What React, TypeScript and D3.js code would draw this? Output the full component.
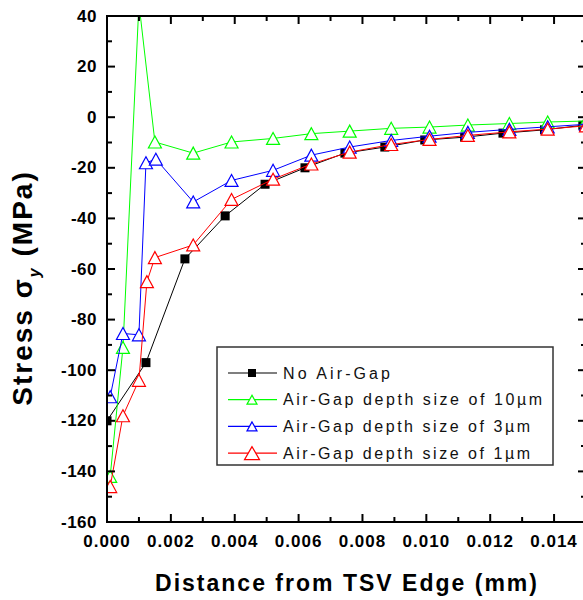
import * as d3 from "d3";
import React from "react";

// distances in mm, stress in MPa
const noGapX = [0, 0.00122, 0.00244, 0.0037, 0.00495, 0.0062, 0.00745, 0.0087, 0.00995, 0.0112, 0.0124, 0.0137, 0.0149];
const noGapY = [-120, -97, -56, -39, -26.5, -20, -14.2, -11.8, -9, -7.9, -6.3, -5, -3.2];

const gap10X = [0.0001, 0.0005, 0.001, 0.0015, 0.0027, 0.0039, 0.0052, 0.0064, 0.0076, 0.0089, 0.0101, 0.0113, 0.0126, 0.0138, 0.015];
const gap10Y = [-142, -91, 45, -9.8, -14.2, -9.8, -8.4, -6.5, -5.5, -4.4, -3.9, -3.1, -2.5, -1.9, -1.5];

const gap3X = [0.0001, 0.0005, 0.001, 0.00122, 0.00153, 0.0027, 0.0039, 0.0052, 0.0064, 0.0076, 0.0089, 0.0101, 0.0113, 0.0126, 0.0138, 0.015];
const gap3Y = [-110.5, -85.5, -86, -18, -16.6, -33.5, -25, -21, -15, -11.8, -9.2, -7.5, -6, -4.8, -3.8, -2.8];

const gap1X = [0.0001, 0.0005, 0.001, 0.00125, 0.0015, 0.0027, 0.0039, 0.0052, 0.0064, 0.0076, 0.0089, 0.0101, 0.0113, 0.0126, 0.0138, 0.015];
const gap1Y = [-146, -118, -104, -65, -55.5, -50.5, -32.5, -24.5, -18.5, -13.8, -10.8, -8.8, -7.2, -5.8, -4.7, -3.4];

const xTicks = [0, 0.002, 0.004, 0.006, 0.008, 0.01, 0.012, 0.014];
const yTicks = [-160, -140, -120, -100, -80, -60, -40, -20, 0, 20, 40];

const legendLabels = ["No Air-Gap", "Air-Gap depth size of 10\u00b5m", "Air-Gap depth size of 3\u00b5m", "Air-Gap depth size of 1\u00b5m"];
const legendWidths = [107, 259, 247, 247];

interface Series {
    xs: number[];
    ys: number[];
    color: string;
    marker: "square" | "triangle";
}

const series: Series[] = [
    { xs: noGapX, ys: noGapY, color: "#000000", marker: "square" },
    { xs: gap10X, ys: gap10Y, color: "#00ff00", marker: "triangle" },
    { xs: gap3X, ys: gap3Y, color: "#0000ff", marker: "triangle" },
    { xs: gap1X, ys: gap1Y, color: "#ff0000", marker: "triangle" },
];

const W = 583, H = 600;
const L = 107, R = 586, T = 16, B = 522;

const tri = (cx: number, cy: number, w: number, h: number) =>
    `M${cx},${cy - h / 2}L${cx - w / 2},${cy + h / 2}L${cx + w / 2},${cy + h / 2}Z`;

const Marker: React.FC<{ kind: string; cx: number; cy: number; color: string; big?: boolean; small?: boolean }> = ({ kind, cx, cy, color, big, small }) => {
    if (kind === "square") {
        const s = small ? 8 : 9;
        return <rect x={cx - s / 2} y={cy - s / 2} width={s} height={s} fill={color} />;
    }
    const w = small ? (big ? 15 : 10) : 13;
    const h = small ? (big ? 13 : 9) : 12;
    return <path d={tri(cx, cy, w, h)} fill="white" stroke={color} strokeWidth={1.2} />;
};

const App: React.FC = () => {
    const x = d3.scaleLinear().domain([0, 0.015]).range([L, R]);
    const y = d3.scaleLinear().domain([-160, 40]).range([B, T]);
    const line = d3.line<[number, number]>().x(d => x(d[0])).y(d => y(d[1]));
    const fmt = d3.format(".3f");
    const xMinor = d3.range(0, 0.0151, 0.001);
    const yMinor = d3.range(-160, 41, 10);
    const font = "Arial, 'Liberation Sans', sans-serif";

    return (
        <div style={{ position: "absolute", left: 0, top: 0 }}>
            <svg width={W} height={H} style={{ background: "white", display: "block" }} fontFamily={font}>
                <defs>
                    <clipPath id="plot">
                        <rect x={L} y={T} width={R - L} height={B - T} />
                    </clipPath>
                </defs>

                <g clipPath="url(#plot)">
                    {series.map((s, i) => {
                        const pts = s.xs.map((v, j) => [v, s.ys[j]] as [number, number]);
                        return (
                            <g key={i}>
                                <path d={line(pts)!} fill="none" stroke={s.color} strokeWidth={1} />
                                {pts.map((p, j) => (
                                    <Marker key={j} kind={s.marker} cx={x(p[0])} cy={y(p[1])} color={s.color} />
                                ))}
                            </g>
                        );
                    })}
                </g>

                {/* ticks, pointing inward */}
                {xMinor.map((v, i) => {
                    const major = i % 2 === 0;
                    const len = major ? 8 : 5;
                    return (
                        <g key={"xt" + i} stroke="black" strokeWidth={2}>
                            <line x1={x(v)} x2={x(v)} y1={B} y2={B - len} />
                            <line x1={x(v)} x2={x(v)} y1={T} y2={T + len} />
                        </g>
                    );
                })}
                {yMinor.map((v, i) => {
                    const major = i % 2 === 0;
                    const len = major ? 8 : 5;
                    return (
                        <g key={"yt" + i} stroke="black" strokeWidth={2}>
                            <line x1={L} x2={L + len} y1={y(v)} y2={y(v)} />
                            <line x1={R} x2={R - len} y1={y(v)} y2={y(v)} />
                        </g>
                    );
                })}
                <rect x={L} y={T} width={R - L} height={B - T} fill="none" stroke="black" strokeWidth={2} />

                {xTicks.map(v => (
                    <text key={"xl" + v} x={x(v)} y={B + 19} textAnchor="middle" dominantBaseline="central"
                        fontSize={17} fontWeight="bold" letterSpacing={1}>
                        {fmt(v)}
                    </text>
                ))}
                {yTicks.map(v => (
                    <text key={"yl" + v} x={L - 10} y={y(v)} textAnchor="end" dominantBaseline="central"
                        fontSize={17} fontWeight="bold" letterSpacing={0.5}>
                        {v}
                    </text>
                ))}

                <text x={346} y={583} textAnchor="middle" dominantBaseline="central" fontSize={23} fontWeight="bold"
                    textLength={382} lengthAdjust="spacing">
                    Distance from  TSV Edge (mm)
                </text>
                <text transform="translate(32,288) rotate(-90)" textAnchor="middle" fontSize={28} fontWeight="bold" letterSpacing={2}>
                    Stress σ<tspan fontSize={16} fontStyle="italic" dy={8}>y</tspan><tspan dy={-8}> (MPa)</tspan>
                </text>

                {/* legend */}
                <rect x={217} y={347} width={336} height={118} fill="white" stroke="#333" strokeWidth={1.5} />
                {series.map((s, i) => {
                    const ry = 373 + i * 26.7;
                    return (
                        <g key={"lg" + i}>
                            <line x1={228} x2={277} y1={ry} y2={ry} stroke={s.color} strokeWidth={1.2} />
                            <Marker kind={s.marker} cx={252} cy={ry} color={s.color} small big={i === 3} />
                            <text x={283} y={ry} dominantBaseline="central" fontSize={16} fill="#111"
                                textLength={legendWidths[i]} lengthAdjust="spacing">
                                {legendLabels[i]}
                            </text>
                        </g>
                    );
                })}
            </svg>
        </div>
    );
};

export default App;
